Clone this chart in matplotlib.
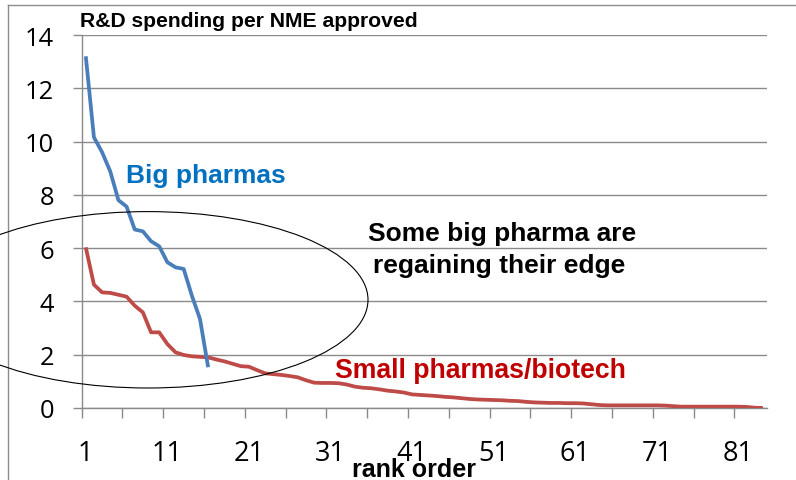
import matplotlib
matplotlib.use("Agg")
import matplotlib.pyplot as plt
from matplotlib.patches import Ellipse
from matplotlib.lines import Line2D
import numpy as np

# ---- data ----
big_pharma = [13.2, 10.16, 9.6, 8.88, 7.8, 7.56, 6.7, 6.63, 6.26, 6.07,
              5.47, 5.28, 5.22, 4.22, 3.34, 1.53]
small_pharma = [6.03, 4.63, 4.34, 4.32, 4.25, 4.18, 3.84, 3.59, 2.84, 2.84,
                2.40, 2.09, 1.99, 1.94, 1.92, 1.90, 1.82, 1.75, 1.66, 1.57,
                1.55, 1.42, 1.30, 1.27, 1.24, 1.20, 1.15, 1.04, 0.95, 0.94,
                0.94, 0.93, 0.88, 0.80, 0.76, 0.74, 0.70, 0.65, 0.62, 0.58,
                0.51, 0.49, 0.47, 0.45, 0.42, 0.40, 0.37, 0.34, 0.32, 0.31,
                0.30, 0.29, 0.27, 0.26, 0.23, 0.21, 0.20, 0.19, 0.19, 0.18,
                0.18, 0.17, 0.14, 0.11, 0.10, 0.10, 0.10, 0.10, 0.10, 0.10,
                0.10, 0.09, 0.07, 0.05, 0.05, 0.05, 0.05, 0.05, 0.05, 0.05,
                0.05, 0.04, 0.01, 0.00]
y_ticks = [0, 2, 4, 6, 8, 10, 12, 14]
x_tick_labels = ["1", "11", "21", "31", "41", "51", "61", "71", "81"]
title_text = "R&D spending per NME approved"
x_label_text = "rank order"
big_label = "Big pharmas"
small_label = "Small pharmas/biotech"
note_lines = ["Some big pharma are", "regaining their edge"]

W, H = 796, 481
fig = plt.figure(figsize=(W / 100, H / 100), dpi=100)
fig.patch.set_facecolor("white")

left_px, right_px, top_px, bottom_px = 81.7, 767.0, 36.0, 409.0
ax = fig.add_axes([left_px / W, (H - bottom_px) / H,
                   (right_px - left_px) / W, (bottom_px - top_px) / H])

grid_c = "#8a8a8a"
blue_line = "#4A7EBB"
red_line = "#BE4B48"

n_big = len(big_pharma)
n_small = len(small_pharma)
ax.plot(np.arange(1, n_big + 1), big_pharma, color=blue_line, lw=2.7,
        solid_joinstyle="round", solid_capstyle="butt", zorder=4)
ax.plot(np.arange(1, n_small + 1), small_pharma, color=red_line, lw=2.7,
        solid_joinstyle="round", solid_capstyle="butt", zorder=3)

ax.set_xlim(0.5, n_small + 0.5)
ax.set_ylim(0, 14)

# y axis
ax.set_yticks(y_ticks)
ax.set_yticklabels([str(v) for v in y_ticks], fontfamily="Open Sans",
                   fontsize=18.4, color="black")
ax.tick_params(axis="y", direction="out", length=6.5, width=1.0,
               color=grid_c, pad=13.5)
ax.yaxis.grid(True, color=grid_c, lw=1.0)
ax.set_axisbelow(True)

# x axis: ticks at category boundaries every 5, labels every 10
ax.set_xticks(np.arange(0.5, n_small + 0.5, 5))
ax.set_xticklabels([])
label_pos = [int(s) for s in x_tick_labels]
ax.set_xticks(label_pos, minor=True)
ax.set_xticklabels(x_tick_labels, minor=True, fontfamily="Open Sans",
                   fontsize=19.5, color="black")
ax.tick_params(axis="x", which="major", direction="out", length=7.2,
               width=1.0, color=grid_c)
ax.tick_params(axis="x", which="minor", length=0, pad=22)

for s in ["top", "right"]:
    ax.spines[s].set_visible(False)
for s in ["left", "bottom"]:
    ax.spines[s].set_color(grid_c)
    ax.spines[s].set_linewidth(1.0)

# texts (pixel placement helper)
def fx(px):
    return px / W

def fy(py):
    return (H - py) / H

fig.text(fx(80), fy(26.7), title_text, fontfamily="Liberation Sans",
         fontweight="bold", fontsize=15.2, color="black", va="baseline",
         ha="left")
fig.text(fx(125.5), fy(183.3), big_label, fontfamily="Liberation Sans",
         fontweight="bold", fontsize=19, color="#0070C0", va="baseline",
         ha="left")
fig.text(fx(335), fy(377.7), small_label, fontfamily="Liberation Sans",
         fontweight="bold", fontsize=19.2, color="#C00000", va="baseline",
         ha="left")
fig.text(fx(502), fy(241), note_lines[0], fontfamily="Liberation Sans",
         fontweight="bold", fontsize=19, color="black", va="baseline",
         ha="center")
fig.text(fx(499), fy(273), note_lines[1], fontfamily="Liberation Sans",
         fontweight="bold", fontsize=19, color="black", va="baseline",
         ha="center")
fig.text(fx(414), fy(477), x_label_text, fontfamily="Liberation Sans",
         fontweight="bold", fontsize=18, color="black", va="baseline",
         ha="center")

# ellipse annotation (in figure pixel space)
ell_cx, ell_cy, ell_w, ell_h = 148, 300.8, 440, 176.4
ell = Ellipse((ell_cx, H - ell_cy), ell_w, ell_h, transform=None,
              fill=False, edgecolor="black", lw=0.8, zorder=6)
fig.add_artist(ell)

# outer chart frame (partially visible)
fig.add_artist(Line2D([fx(8), fx(8)], [0, fy(6)], color="#8c8c8c", lw=1.0,
                      transform=fig.transFigure))
fig.add_artist(Line2D([fx(8), 1], [fy(6), fy(6)], color="#8c8c8c", lw=1.0,
                      transform=fig.transFigure))

fig.savefig("out.png", dpi=100)
